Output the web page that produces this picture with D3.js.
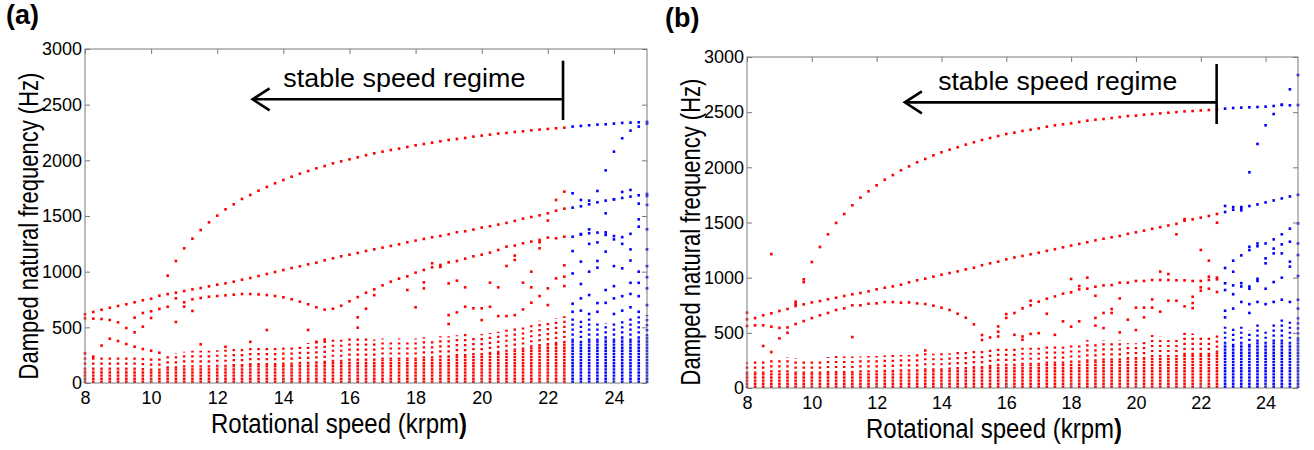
<!DOCTYPE html>
<html>
<head>
<meta charset="utf-8">
<script src="https://cdn.jsdelivr.net/npm/d3@7"></script>
<style>
body{margin:0;background:#fff;}
svg{display:block;font-family:"Liberation Sans",Arial,sans-serif;}
</style>
</head>
<body>
<svg id="chart" width="1314" height="450"></svg>
<script>
var speeds = [8,8.25,8.5,8.75,9,9.25,9.5,9.75,10,10.25,10.5,10.75,11,11.25,11.5,11.75,12,12.25,12.5,12.75,
  13,13.25,13.5,13.75,14,14.25,14.5,14.75,15,15.25,15.5,15.75,16,16.25,16.5,16.75,17,17.25,17.5,17.75,
  18,18.25,18.5,18.75,19,19.25,19.5,19.75,20,20.25,20.5,20.75,21,21.25,21.5,21.75,22,22.25,22.5,22.75,
  23,23.25,23.5,23.75,24,24.25,24.5,24.75,25];
var stableLimit = 22.5;   // krpm, red up to here, blue above
var xTicks = [8,10,12,14,16,18,20,22,24];
var yTicks = [0,500,1000,1500,2000,2500,3000];

// ---- panel (a) ----
var upperA = [null,null,null,null,null,null,null,null,null,null,
  964,1096,1210,1296,1374,1443,1503,1560,1605,1653,
  1689,1727,1761,1794,1823,1853,1880,1904,1928,1949,
  1973,1991,2009,2027,2046,2063,2078,2093,2105,2120,
  2135,2147,2159,2171,2183,2192,2201,2213,2222,2231,
  2240,2246,2255,2261,2270,2276,2282,2288,2293,2303,
  2309,2315,2321,2324,2330,2336,2339,2342,2345];
var midA = [617,638,658,676,692,707,725,743,757,784,
  799,811,826,841,853,868,883,895,910,928,
  943,961,979,997,1015,1033,1048,1066,1081,1102,
  1120,1138,1153,1168,1186,1201,1216,1231,1246,1264,
  1279,1294,1309,1321,1336,1354,1363,1378,1396,1408,
  1423,1438,1456,1476,1491,1506,1524,1548,1566,1575,
  1587,1605,1623,1638,1650,1662,1674,1686,1698];
var archA = [581,578,575,566,545,494,587,629,644,665,
  685,761,725,752,763,775,781,787,793,799,
  799,796,790,781,770,752,730,707,680,659,
  667,694,734,772,811,841,877,910,937,958,
  991,1015,1039,1060,1084,1096,1117,1138,1153,1171,
  1195,1225,1234,1255,1270,1285,1306,1300,1314,1314,
  1333,1345,1351,1330,1320,1310,1340,1404,1380];
var lowA = [120,120,120,120,120,120,120,115,110,110,
  130,130,140,140,140,140,145,145,150,150,
  160,160,160,160,165,165,170,170,175,180,
  190,190,200,200,200,200,210,210,210,210,
  210,220,220,230,230,240,240,250,250,260,
  270,280,290,300,320,330,340,350,360,380,
  360,380,380,400,380,400,380,400,420];
var topA = [240,235,235,240,245,245,245,240,235,230,
  265,270,280,290,290,290,295,300,305,310,
  320,330,320,320,330,340,350,360,370,380,
  390,400,410,410,400,390,400,390,400,390,
  400,410,390,420,420,430,440,430,440,450,
  460,480,500,510,540,560,560,580,600,600,
  560,580,560,540,560,560,580,600,610];
var extraA = [[8,267],[8.25,237],[8.5,336],[8.75,398],[9,377],[9.25,350],[9.5,455],[9.5,326],[9.75,506],[9.75,305],
  [10,584],[10,290],[10.25,272],[10.75,548],[11,686],[11.25,647],[11.5,348],[12.25,325],[13,370],[13.5,476],
  [14.75,476],[15,370],[15.25,390],[16.25,590],[16.25,497],[16.5,667],[16.75,789],[17.75,835],[18,680],[18.25,904],
  [18.25,850],[18.5,1075],[18.75,1042],[19,895],[19,610],[19,530],[19.25,919],[19.25,634],[19.5,859],[19.5,685],
  [19.75,671],[20,671],[20,565],[20.25,901],[20.25,685],[20.5,859],[20.5,601],[20.75,1051],[20.75,601],[21,1144],
  [21,1105],[21,610],[21.25,901],[21.25,661],[21.5,1000],[21.5,859],[21.5,721],[21.75,1264],[21.75,1210],[21.75,781],
  [22,1459],[22,850],[22,700],[22.25,1644],[22.25,940],[22.5,1719],[22.5,1057],[22.5,955],[22.5,871],
  [22.75,1704],[22.75,1185],[22.75,984],[22.75,712],[22.75,640],[23,1644],[23,1338],[23,1090],[23,889],[23,650],[23,760],
  [23.25,1638],[23.25,1380],[23.25,1250],[23.25,1000],[23.25,790],[23.25,620],[23.5,1725],[23.5,1263],[23.5,1096],[23.5,1036],
  [23.5,718],[23.5,640],[23.75,1910],[23.75,1524],[23.75,1353],[23.75,1180],[23.75,835],[23.75,720],[24,2078],[24,1650],
  [24,1290],[24,1050],[24,870],[24,760],[24,620],[24.25,2198],[24.25,1716],[24.25,1250],[24.25,1030],[24.25,780],[24.25,650],
  [24.5,2267],[24.5,1734],[24.5,1200],[24.5,1100],[24.5,900],[24.5,800],[24.5,680],[24.75,2303],[24.75,1611],[24.75,1470],
  [24.75,1000],[24.75,900],[24.75,780],[24.75,640],[25,2330],[25,1680],[25,1600],[25,1200],[25,1050],[25,950],[25,850],[25,700]];

// ---- panel (b) ----
var upperB = [null,null,null,null,null,null,null,985,1142,1278,
  1393,1496,1577,1656,1725,1783,1837,1888,1930,1973,
  2009,2046,2076,2109,2136,2160,2182,2206,2227,2248,
  2266,2284,2302,2314,2330,2341,2353,2368,2381,2390,
  2399,2411,2423,2432,2438,2447,2456,2465,2468,2477,
  2483,2489,2495,2501,2507,2510,2516,2520,2525,2532,
  2538,2541,2544,2547,2550,2556,2568,2562,2565];
var midB = [622,634,659,677,698,716,743,758,776,788,
  804,818,834,849,861,876,894,909,921,936,
  958,976,991,1009,1027,1042,1057,1075,1090,1113,
  1130,1145,1166,1183,1197,1212,1226,1243,1258,1275,
  1291,1306,1321,1338,1353,1366,1378,1397,1411,1426,
  1443,1458,1473,1488,1516,1529,1544,1559,1577,1595,
  1616,1630,1649,1664,1682,1700,1718,1736,1751];
var archB = [562,568,568,556,545,549,580,607,634,659,
  680,707,722,749,749,764,767,779,779,773,
  776,767,761,746,728,707,673,637,577,480,
  458,510,635,680,722,749,782,809,830,855,
  867,894,900,918,930,933,955,955,970,970,
  979,979,979,976,976,970,970,979,985,949,
  930,920,920,990,1130,1220,1302,1326,1310];
var lowB = [130,130,130,140,140,140,130,130,130,130,
  135,135,135,135,140,140,140,145,145,150,
  150,150,160,160,160,165,170,170,180,180,
  190,200,200,200,210,210,210,220,220,220,
  230,230,240,240,250,250,250,260,260,260,
  280,280,280,280,300,300,300,300,320,400,
  380,400,380,420,400,420,420,400,440];
var topB = [230,250,240,270,270,280,270,260,260,260,
  280,290,285,285,285,290,290,295,300,300,
  300,305,330,310,315,315,340,345,340,360,
  355,375,370,370,375,375,375,390,390,375,
  390,390,435,420,435,405,435,405,405,435,
  480,465,435,435,510,495,465,480,495,560,
  540,560,520,580,520,600,620,600,660];
var extraB = [[8,683],[8.5,381],[8.75,1214],[8.75,326],[9,450],[9.25,501],[9.5,782],[9.5,760],[9.75,960],[11.25,462],
  [13.5,340],[15.25,435],[15.75,558],[15.75,467],[16,670],[16.25,482],[16.5,467],[16.5,437],[16.75,791],[16.75,490],
  [17,497],[17.25,673],[17.5,482],[17.75,604],[18,988],[18,556],[18.25,924],[18.25,604],[18.5,1000],[18.75,836],
  [18.75,635],[18.75,565],[19,680],[19,543],[19.25,716],[19.25,680],[19.5,812],[19.5,504],[19.75,619],[20,728],
  [20,525],[20.25,728],[20.25,640],[20.5,803],[20.5,728],[20.75,1055],[20.75,692],[21,1033],[21,791],[21.25,1393],
  [21.25,791],[21.5,1531],[21.5,740],[21.75,827],[21.75,770],[21.75,724],[22,1251],[22,912],[22,882],[22.25,1154],
  [22.25,1009],[22.25,900],[22.5,1498],[22.5,1000],[22.5,870],
  [22.75,1650],[22.75,1088],[22.75,888],[22.75,700],[22.75,640],[23,1640],[23,1154],[23,1054],[23,850],[23,720],
  [23.25,1640],[23.25,1610],[23.25,1202],[23.25,950],[23.25,780],[23.5,1955],[23.5,1280],[23.5,1250],[23.5,900],[23.5,760],
  [23.5,680],[23.75,2212],[23.75,1310],[23.75,1285],[23.75,970],[23.75,780],[24,2381],[24,1310],[24,1175],[24,900],
  [24,760],[24.25,2483],[24.25,1347],[24.25,1263],[24.25,960],[24.25,780],[24.5,2565],[24.5,1393],[24.5,1220],[24.5,1000],
  [24.5,800],[24.75,2707],[24.75,1444],[24.75,1145],[24.75,1100],[24.75,780],[25,2837],[25,1492],[25,1205],[25,1015],
  [25,800],[25,720]];

var svg = d3.select("#chart");
var red = "#ff0000", blue = "#0000ff", frameGrey = "#7a7a7a";
var colour = function(s){ return s > stableLimit ? blue : red; };

function drawPanel(p){
  var x = d3.scaleLinear().domain([8,25]).range(p.xr);
  var y = d3.scaleLinear().domain([0,3000]).range(p.yr);
  var g = svg.append("g");

  // dense low-frequency columns: tight dots below, looser above
  g.selectAll(".colhi").data(speeds).enter().append("line")
    .attr("x1", function(d){ return x(d); }).attr("x2", function(d){ return x(d); })
    .attr("y1", function(d,i){ return y(p.low[i]); })
    .attr("y2", function(d,i){ return y(p.top[i]); })
    .attr("stroke", colour).attr("stroke-width", 2.5)
    .attr("stroke-dasharray", "2.2,2.8");
  g.selectAll(".collo").data(speeds).enter().append("line")
    .attr("x1", function(d){ return x(d); }).attr("x2", function(d){ return x(d); })
    .attr("y1", y(0))
    .attr("y2", function(d,i){ return y(p.low[i]); })
    .attr("stroke", colour).attr("stroke-width", 2.6)
    .attr("stroke-dasharray", "2.4,0.7");

  var pts = [];
  [p.upper, p.mid, p.arch].forEach(function(series){
    series.forEach(function(v,i){ if (v != null) pts.push([speeds[i], v]); });
  });
  p.extra.forEach(function(d){ pts.push(d); });

  g.selectAll(".pt").data(pts).enter().append("rect")
    .attr("x", function(d){ return x(d[0]) - 1.3; })
    .attr("y", function(d){ return y(d[1]) - 1.3; })
    .attr("width", 2.6).attr("height", 2.6)
    .attr("fill", function(d){ return colour(d[0]); });

  // axes box, MATLAB style ticks pointing inwards
  var fmt = d3.format("d");
  var bottom = g.append("g").attr("transform", "translate(0," + p.yr[0] + ")")
    .call(d3.axisBottom(x).tickValues(xTicks).tickFormat(fmt).tickSize(-5).tickPadding(8));
  var left = g.append("g").attr("transform", "translate(" + p.xr[0] + ",0)")
    .call(d3.axisLeft(y).tickValues(yTicks).tickFormat(fmt).tickSize(-5).tickPadding(3));
  var top = g.append("g").attr("transform", "translate(0," + p.yr[1] + ")")
    .call(d3.axisTop(x).tickValues(xTicks).tickSize(-5).tickFormat(""));
  var right = g.append("g").attr("transform", "translate(" + p.xr[1] + ",0)")
    .call(d3.axisRight(y).tickValues(yTicks).tickSize(-5).tickFormat(""));
  [bottom, left, top, right].forEach(function(a){
    a.select(".domain").remove();
    a.selectAll(".tick line").attr("stroke", frameGrey);
    a.selectAll("text").attr("fill", "#000").attr("font-size", 18)
      .attr("font-family", "'Liberation Sans',Arial,sans-serif");
  });
  g.append("rect")
    .attr("x", p.xr[0]).attr("y", p.yr[1])
    .attr("width", p.xr[1] - p.xr[0]).attr("height", p.yr[0] - p.yr[1])
    .attr("fill", "none").attr("stroke", frameGrey).attr("stroke-width", 1);

  // titles, a tall narrow face like the MATLAB export
  var xt = svg.append("text")
    .attr("transform", "translate(" + p.xTitle[0] + "," + p.xTitle[1] + ") scale(1,1.17)")
    .attr("font-size", 24)
    .text("Rotational speed (krpm");
  var w = xt.node().getComputedTextLength();
  svg.append("text")
    .attr("transform", "translate(" + (p.xTitle[0] + w) + "," + p.xTitle[1] + ") scale(1,1.17)")
    .attr("font-size", 24).attr("font-weight", "bold")
    .text(")");
  svg.append("text")
    .attr("transform", "translate(" + p.yTitle[0] + "," + p.yTitle[1] + ") rotate(-90) scale(1,1.25)")
    .attr("text-anchor", "middle")
    .attr("font-size", 22)
    .text("Damped natural frequency (Hz)");
  svg.append("text")
    .attr("x", p.tag[0]).attr("y", p.tag[1])
    .attr("font-size", 27).attr("font-weight", "bold")
    .text(p.label);

  // stable speed regime annotation (placed in data units)
  var a = p.note;
  svg.append("text")
    .attr("x", x(a.textS)).attr("y", y(a.textF))
    .attr("font-size", 26)
    .attr("textLength", a.textW).attr("lengthAdjust", "spacingAndGlyphs")
    .text("stable speed regime");
  var tipX = x(a.tipS), ay = y(a.arrowF);
  svg.append("line")
    .attr("x1", tipX).attr("x2", x(a.barS))
    .attr("y1", ay).attr("y2", ay)
    .attr("stroke", "#000").attr("stroke-width", 2.6);
  svg.append("path")
    .attr("d", "M" + (tipX + 17) + "," + (ay - 11) + "L" + tipX + "," + ay + "L" + (tipX + 17) + "," + (ay + 11))
    .attr("fill", "none").attr("stroke", "#000").attr("stroke-width", 2.6);
  svg.append("line")
    .attr("x1", x(a.barS)).attr("x2", x(a.barS))
    .attr("y1", y(a.barTop)).attr("y2", y(a.barBottom))
    .attr("stroke", "#000").attr("stroke-width", 2.6);
}

drawPanel({
  xr: [85, 647], yr: [383, 49],
  upper: upperA, mid: midA, arch: archA, low: lowA, top: topA, extra: extraA,
  xTitle: [211, 433], yTitle: [38, 226], tag: [6, 24], label: "(a)",
  note: {textS: 14, textF: 2659, textW: 242, tipS: 13.07, barS: 22.46, arrowF: 2548, barTop: 2895, barBottom: 2362}
});
drawPanel({
  xr: [747, 1298], yr: [388, 57],
  upper: upperB, mid: midB, arch: archB, low: lowB, top: topB, extra: extraB,
  xTitle: [866, 438], yTitle: [700, 232], tag: [665, 27], label: "(b)",
  note: {textS: 13.9, textF: 2701, textW: 239, tipS: 12.87, barS: 22.49, arrowF: 2589, barTop: 2937, barBottom: 2393}
});
</script>
</body>
</html>
